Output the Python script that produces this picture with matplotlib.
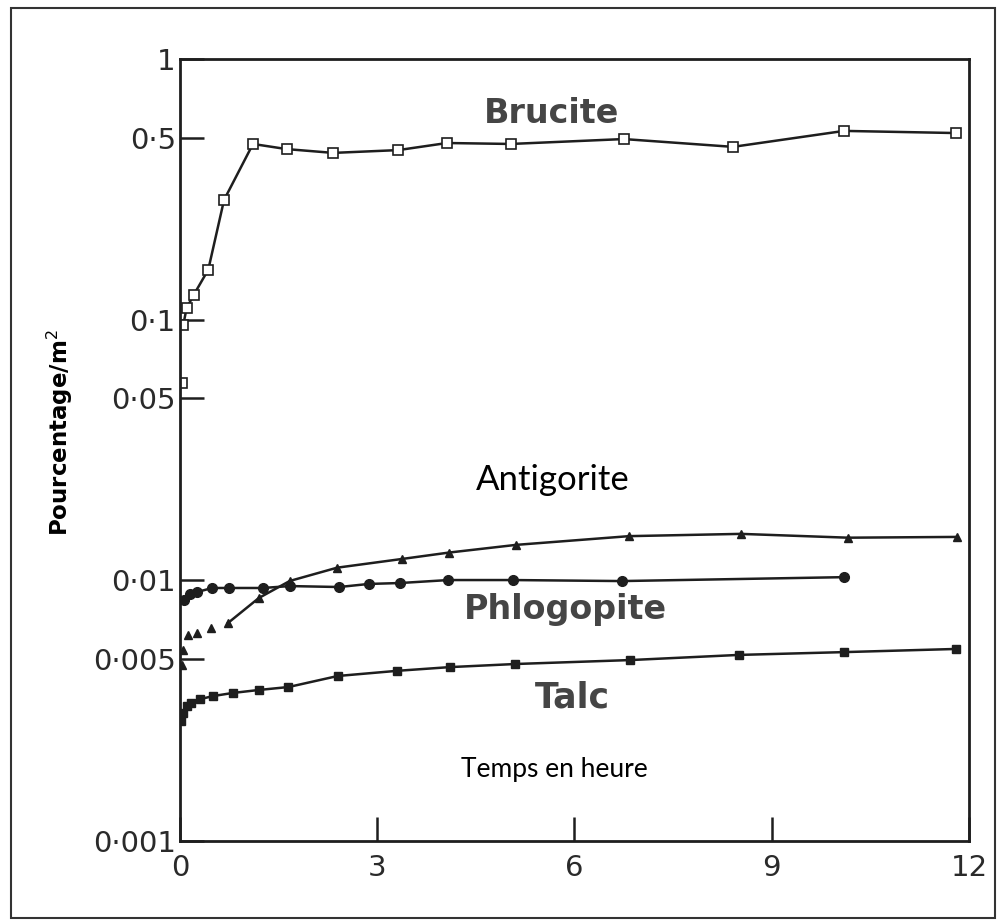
import matplotlib
matplotlib.use("Agg")
from matplotlib import pyplot as plt
from matplotlib.patches import Rectangle

# temps en heure / pourcentage par m2
brucite_t = [0.03, 0.05, 0.1, 0.21, 0.43, 0.67, 1.11, 1.62, 2.33, 3.32, 4.06, 5.03, 6.75, 8.41, 10.1, 11.8]
brucite_y = [0.0573, 0.0957, 0.111, 0.125, 0.156, 0.289, 0.474, 0.453, 0.438, 0.449, 0.478, 0.474, 0.495, 0.462, 0.532, 0.522]

antigorite_t = [0.03, 0.04, 0.12, 0.26, 0.47, 0.73, 1.2, 1.67, 2.39, 3.38, 4.09, 5.11, 6.83, 8.53, 10.16, 11.82]
antigorite_y = [0.00474, 0.00541, 0.00618, 0.00629, 0.00657, 0.00687, 0.00857, 0.00996, 0.0112, 0.0121, 0.0128, 0.0137, 0.0148, 0.0151, 0.0146, 0.0147]

phlogopite_t = [0.06, 0.15, 0.26, 0.49, 0.75, 1.26, 1.67, 2.42, 2.87, 3.35, 4.08, 5.06, 6.72, 10.1]
phlogopite_y = [0.00842, 0.00887, 0.00903, 0.00936, 0.00936, 0.00936, 0.00952, 0.00944, 0.0097, 0.00978, 0.01004, 0.01004, 0.00995, 0.0103]

talc_t = [0.02, 0.05, 0.1, 0.17, 0.3, 0.5, 0.8, 1.2, 1.65, 2.4, 3.3, 4.1, 5.1, 6.85, 8.5, 10.1, 11.8]
talc_y = [0.0029, 0.0031, 0.0033, 0.0034, 0.0035, 0.0036, 0.0037, 0.0038, 0.0039, 0.0043, 0.0045, 0.00465, 0.00478, 0.00495, 0.00518, 0.00531, 0.00546]

y_ticks = [0.001, 0.005, 0.01, 0.05, 0.1, 0.5, 1]
y_tick_labels = ["0·001", "0·005", "0·01", "0·05", "0·1", "0·5", "1"]
x_ticks = [0, 3, 6, 9, 12]

fig = plt.figure(figsize=(10.04, 9.23), dpi=100)
ax = fig.add_axes([180/1004, 1 - 841/923, 789/1004, 781.5/923])

col = "#1e1e1e"
# les premiers points ne sont pas relies par la courbe
ax.plot(brucite_t, brucite_y, ls="none", marker="s", ms=7, mfc="white", mec=col, mew=1.2)
ax.plot(brucite_t[1:], brucite_y[1:], color=col, lw=1.8, zorder=1)

ax.plot(antigorite_t, antigorite_y, ls="none", marker="^", ms=5.5, color=col)
ax.plot(antigorite_t[5:], antigorite_y[5:], color=col, lw=1.8)

ax.plot(phlogopite_t, phlogopite_y, color=col, lw=1.8, marker="o", ms=7)
ax.plot(talc_t, talc_y, color=col, lw=1.8, marker="s", ms=5.5)

ax.set_yscale("log")
ax.set_xlim(0, 12)
ax.set_ylim(0.001, 1)
ax.set_yticks(y_ticks)
ax.set_yticklabels(y_tick_labels)
ax.minorticks_off()
ax.set_xticks(x_ticks)
ax.set_xticklabels([str(v) for v in x_ticks])

ax.tick_params(axis="y", direction="in", length=17, width=1.8, color=col, pad=3,
               labelsize=21, labelcolor="#2a2a2a")
ax.tick_params(axis="x", direction="in", length=17, width=1.8, color=col, pad=9,
               labelsize=21, labelcolor="#2a2a2a")
for lab in ax.get_xticklabels() + ax.get_yticklabels():
    lab.set_family("DejaVu Sans")
for s in ax.spines.values():
    s.set_linewidth(2)
    s.set_color(col)

gray = "#454545"
ax.text(0.4715, 0.9315, "Brucite", transform=ax.transAxes, ha="center", va="center",
        fontsize=24, fontweight="bold", color=gray)
ax.text(0.489, 0.296, "Phlogopite", transform=ax.transAxes, ha="center", va="center",
        fontsize=24, fontweight="bold", color=gray)
ax.text(0.498, 0.184, "Talc", transform=ax.transAxes, ha="center", va="center",
        fontsize=25, fontweight="bold", color=gray)
ax.text(0.473, 0.462, "Antigorite", transform=ax.transAxes, ha="center", va="center",
        fontsize=25, family="Lato", color="black")
ax.text(0.475, 0.091, "Temps en heure", transform=ax.transAxes, ha="center", va="center",
        fontsize=19, family="Lato", color="black")

fig.text(60/1004, 1 - 433/923, "Pourcentage/m$^2$", rotation=90, ha="center", va="center",
         fontsize=16.5, fontweight="bold", family="DejaVu Sans")

fig.patches.append(Rectangle((11/1004, 1 - 918/923), 984/1004, 910/923, transform=fig.transFigure,
                             fill=False, edgecolor="#333333", lw=1.5))

fig.savefig("out.png", dpi=100)
